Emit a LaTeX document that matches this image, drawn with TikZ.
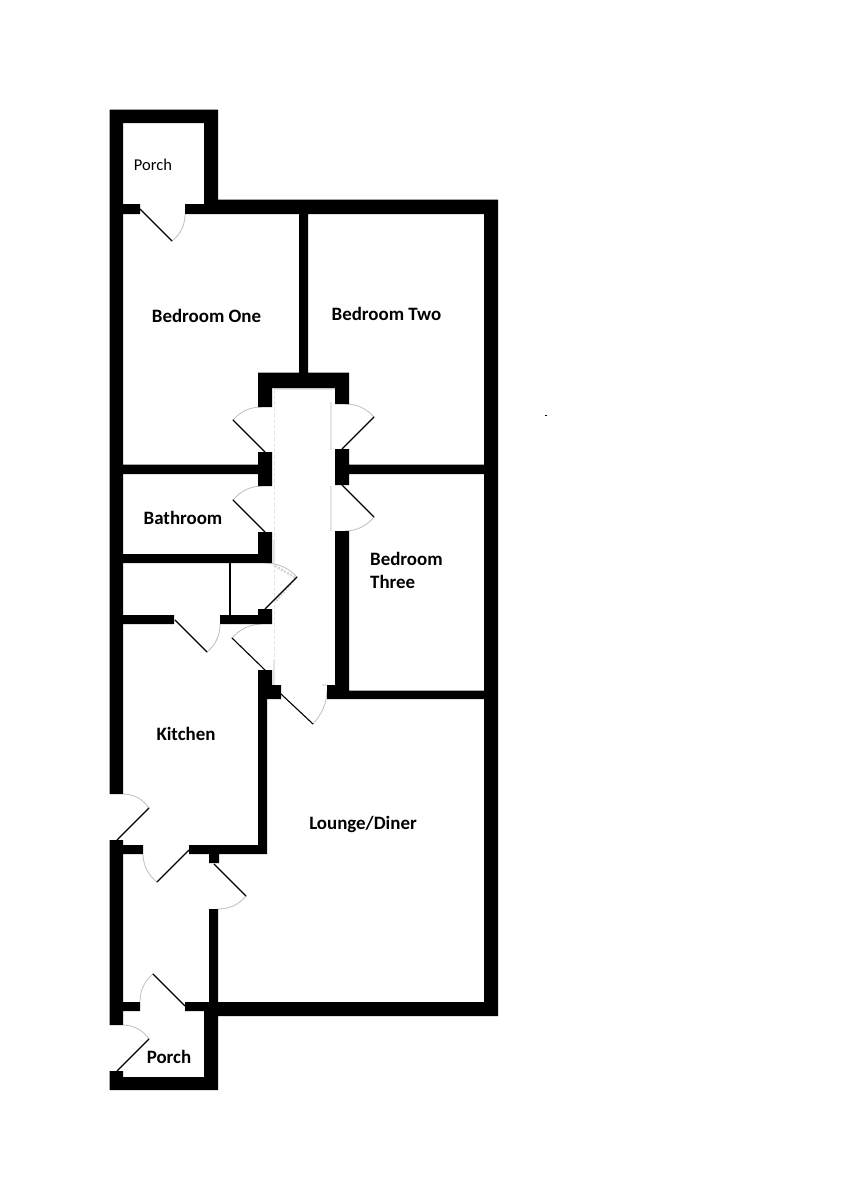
\documentclass[tikz,border=0pt]{standalone}
\usepackage{fontspec}
\setmainfont{Carlito}
\usetikzlibrary{calc}
\tikzset{
  wallfill/.style={fill=black,draw=none},
  leaf/.style={draw=black,line width=1.1pt,line cap=round},
  swing/.style={draw=black!25,line width=0.8pt},
  guide/.style={draw=black!10,line width=1.6pt},
  guidethin/.style={draw=black!10,line width=1pt,dash pattern=on 4pt off 2pt},
  fuzz/.style={draw=black!16,line width=2.4pt,dash pattern=on 2pt off 1.5pt},
  roomlabel/.style={font=\fontsize{18.9}{22}\selectfont\bfseries,inner sep=0pt,text=black},
  plainlabel/.style={font=\fontsize{16.5}{20}\selectfont,inner sep=0pt,text=black}
}
\newcommand{\doorleaf}[4]{%
  \coordinate (#1h) at (#2);
  \coordinate (#1e) at (#3);
  \coordinate (#1j) at (#4);
  \coordinate (#1c) at ($(#1h)!1.1716!($(#1e)!.5!(#1j)$)$);
  \draw[swing] (#1e) .. controls ($(#1e)!.667!(#1c)$) and ($(#1j)!.667!(#1c)$) .. (#1j);
  \draw[leaf] (#1h) -- (#1e);
}
\newcommand{\wl}[4]{(#1,#2) rectangle (#3,#4)}
\begin{document}
\begin{tikzpicture}[x=1pt,y=-1pt]
\useasboundingbox (0,0) rectangle (845,1200);
\fill[white] (0,0) rectangle (845,1200);
% corridor guide lines
\draw[guide] (274,389) -- (335,389);
\draw[guidethin] (274.5,389) -- (274.5,690);
\draw[guide] (274,540) -- (274,566);
\draw[guide] (274,660) -- (274,686);
\draw[guide] (331,402) -- (331,450);
\draw[guide] (331,486) -- (331,531);
\draw[fuzz] (275,566) -- (296,578) -- (275,602);
\draw[guide] (322,685) -- (327,685);
% doors
\doorleaf{da}{140,209}{172,241}{185,214}
\doorleaf{db}{265,452}{233,420}{262,407}
\doorleaf{dc}{342,449}{374,417}{345,404}
\doorleaf{dd}{265,532}{233,500}{262,486}
\doorleaf{de}{342,485}{374,517}{345,531}
\doorleaf{df}{265,609}{297,577}{266,563}
\doorleaf{dg}{175,620}{207,652}{220,624}
\doorleaf{dh}{265,670}{232,638}{262,624}
\doorleaf{di}{281,694}{313,724}{327,690}
\doorleaf{dj}{117,840}{149,808}{123,794}
\doorleaf{dk}{189,850}{157,882}{143,854}
\doorleaf{dl}{214,864}{246,896}{218,909}
\doorleaf{dm}{185,1006}{153,974}{140,1002}
\doorleaf{dn}{117,1071}{149,1039}{123,1025}
% closet partition
\draw[draw=black,line width=1.1pt] (230,563) -- (230,615);
% walls
\fill[wallfill]
  % north porch
  \wl{109.5}{109.5}{123}{794} \wl{109.5}{109.5}{218}{123} \wl{204}{109.5}{218}{214}
  \wl{123}{204}{140}{214} \wl{185}{204}{218}{214}
  % main north and east
  \wl{204}{199.5}{498}{214} \wl{484}{199.5}{498}{1016}
  \wl{299}{214}{308}{373}
  % corridor head
  \wl{258}{372.5}{349}{388} \wl{258}{372.5}{272}{407} \wl{335}{372.5}{349}{404}
  % bedroom / bath partitions
  \wl{123}{464.5}{272}{474} \wl{258}{452}{272}{486}
  \wl{335}{449}{349}{485} \wl{335}{464.5}{484}{474}
  \wl{258}{532}{272}{563} \wl{123}{554}{272}{563}
  \wl{335}{531}{349}{699}
  % store / kitchen
  \wl{123}{615}{174}{624} \wl{220}{615}{272}{624} \wl{258}{609}{272}{624}
  \wl{258}{670}{272}{699} \wl{272}{685}{281}{699}
  \wl{327}{685}{349}{699} \wl{327}{690.5}{484}{699}
  \wl{258}{699}{267}{854}
  % lower hall
  \wl{109.5}{840}{123}{1025} \wl{123}{845}{143}{854} \wl{189}{845}{267}{854}
  \wl{209}{854}{219}{863} \wl{209}{909}{218}{1002}
  % south
  \wl{123}{1002}{140}{1011} \wl{185}{1002}{218}{1011}
  \wl{204}{1002}{498}{1016} \wl{204}{1002}{218}{1090}
  \wl{109.5}{1077}{218}{1090} \wl{109.5}{1071}{123}{1090};
% speck
\fill[black] (544.5,414.5) rectangle (546.5,415.6);
% labels
\node[plainlabel] (porchn) at (153,164.5) {Porch};
\node[roomlabel] (bedone) at (206.5,316) {Bedroom One};
\node[roomlabel] (bedtwo) at (386.5,314) {Bedroom Two};
\node[roomlabel] (bath) at (183,517.5) {Bathroom};
\node[roomlabel,anchor=west] (bedthreea) at (370,559) {Bedroom};
\node[roomlabel,anchor=west] (bedthreeb) at (370,582) {Three};
\node[roomlabel] (kitchen) at (186,734) {Kitchen};
\node[roomlabel] (lounge) at (363,824) {Lounge/Diner};
\node[roomlabel] (porchs) at (169,1057) {Porch};
\end{tikzpicture}
\end{document}
